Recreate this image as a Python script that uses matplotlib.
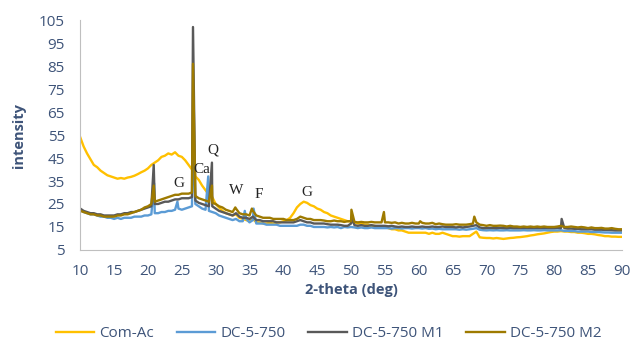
import numpy as np
import matplotlib
matplotlib.use("Agg")
import matplotlib.pyplot as plt

plt.rcParams['font.family'] = ['Open Sans', 'DejaVu Sans']

# 2-theta grid (deg), 0.5 step from 10 to 90
two_theta = np.arange(10, 90.01, 0.5)

com_ac = [
    54, 50, 47, 44.5, 42, 41, 39.5, 38.5, 37.5, 37,          # 10 - 14.5
    36.5, 36, 36.3, 36, 36.5, 36.8, 37.3, 38, 38.8, 39.5,    # 15 - 19.5
    40.5, 42, 43, 44, 45.5, 46, 47, 46.5, 47.5, 46,          # 20 - 24.5
    45.5, 44, 42, 40, 37, 35.5, 33, 31, 29, 28,              # 25 - 29.5
    25, 23.5, 22, 21, 20.5, 20, 20.5, 19, 18.5, 18,          # 30 - 34.5
    17.5, 18.5, 17, 17, 16.5, 16.5, 16.8, 16.5, 17, 17,      # 35 - 39.5
    17.5, 18, 19, 21, 23.5, 25, 26, 25.5, 24.5, 24,          # 40 - 44.5
    23, 22.5, 21.5, 21, 20, 19.5, 19, 18.5, 18, 17.5,        # 45 - 49.5
    17.5, 17, 16.5, 16.5, 16, 16, 15.5, 15.5, 15, 15,        # 50 - 54.5
    15, 14.5, 14, 14, 13.5, 13.5, 13, 12.5, 12.5, 12.5,      # 55 - 59.5
    12.5, 12.5, 12.5, 12, 12.5, 12, 12, 12.5, 12, 11.5,      # 60 - 64.5
    11, 11, 10.8, 11, 11, 11, 12, 13, 10.5, 10.3,            # 65 - 69.5
    10.2, 10.2, 10, 10.2, 10, 9.8, 10, 10.2, 10.3, 10.5,     # 70 - 74.5
    10.6, 10.8, 11, 11.3, 11.5, 11.8, 12, 12.2, 12.5, 12.8,  # 75 - 79.5
    13, 13, 13.2, 13, 13, 12.8, 12.8, 12.5, 12.5, 12.3,      # 80 - 84.5
    12, 12, 11.8, 11.5, 11.3, 11, 11, 10.8, 10.8, 10.7,      # 85 - 89.5
    10.7,                                                    # 90
]

dc_750 = [
    22.5, 21.5, 21, 20.5, 20.5, 20, 19.5, 19.5, 19, 19,      # 10 - 14.5
    18.5, 19, 18.5, 19, 19, 19, 19.5, 19.5, 19.5, 20,        # 15 - 19.5
    20, 20.5, 21, 21, 21.5, 21.5, 22, 22, 22.5, 23,          # 20 - 24.5
    22.5, 23, 23.5, 24, 25, 24, 23, 22.5, 22, 21.5,          # 25 - 29.5
    21, 20, 19.5, 19, 18.5, 18, 18.5, 17.5, 17.5, 18.5,      # 30 - 34.5
    17, 18, 16.5, 16.5, 16.5, 16, 16, 16, 16, 15.5,          # 35 - 39.5
    15.5, 15.5, 15.5, 15.5, 15.5, 16, 16, 15.5, 15.5, 15,    # 40 - 44.5
    15, 15, 15, 14.8, 15, 14.8, 15, 14.5, 15, 14.8,          # 45 - 49.5
    15, 14.8, 14.5, 14.8, 14.5, 14.5, 14.8, 14.5, 14.5, 14.5,  # 50 - 54.5
    14.5, 14.5, 14.3, 14.5, 14.5, 14.3, 14.5, 14.5, 14.3, 14.5,  # 55 - 59.5
    14.5, 14.3, 14.5, 14.2, 14.3, 14, 14.2, 14, 14, 14,      # 60 - 64.5
    14, 14, 13.8, 14, 13.8, 14, 14.2, 14.5, 13.8, 13.6,      # 65 - 69.5
    13.5, 13.6, 13.5, 13.6, 13.5, 13.5, 13.6, 13.5, 13.5, 13.5,  # 70 - 74.5
    13.5, 13.6, 13.5, 13.5, 13.6, 13.5, 13.5, 13.6, 13.5, 13.5,  # 75 - 79.5
    13.5, 13.5, 13.6, 13.3, 13.3, 13.2, 13.2, 13, 13, 13,    # 80 - 84.5
    13, 12.8, 12.8, 12.8, 12.7, 12.6, 12.6, 12.5, 12.5, 12.5,  # 85 - 89.5
    12.5,                                                    # 90
]

dc_750_m1 = [
    23, 22, 21.5, 21, 21, 20.5, 20.5, 20, 20, 20,            # 10 - 14.5
    20, 20.5, 20.5, 21, 21, 21.5, 21.5, 22, 22.5, 23,        # 15 - 19.5
    23.5, 24, 25, 25, 25.5, 26, 26, 26.5, 27, 27,            # 20 - 24.5
    27.5, 27.5, 27.5, 28, 26.5, 25.5, 25, 24.5, 24, 24,      # 25 - 29.5
    23, 22, 21.5, 21, 20.5, 20, 21, 19.5, 19, 19,            # 30 - 34.5
    18.5, 19.5, 18, 18, 17.5, 17.5, 17.5, 17.5, 17, 17,      # 35 - 39.5
    17, 17, 17, 17, 17.5, 18, 17.5, 17, 17, 16.5,            # 40 - 44.5
    16.5, 16.5, 16.5, 16.2, 16, 16, 16, 15.8, 15.5, 15.5,    # 45 - 49.5
    16.5, 15.8, 15.5, 15.8, 15.5, 15.5, 15.8, 15.5, 15.5, 15.5,  # 50 - 54.5
    15.5, 15.3, 15.5, 15.2, 15, 15.2, 15, 15, 15.2, 15,      # 55 - 59.5
    15, 15.2, 15, 15, 15.2, 15, 15, 15.2, 15, 15,            # 60 - 64.5
    15, 14.8, 15, 14.8, 15, 15.2, 15.5, 15.8, 14.8, 14.5,    # 65 - 69.5
    14.5, 14.6, 14.5, 14.5, 14.6, 14.5, 14.5, 14.6, 14.5, 14.5,  # 70 - 74.5
    14.5, 14.6, 14.5, 14.5, 14.6, 14.5, 14.5, 14.6, 14.5, 14.5,  # 75 - 79.5
    14.5, 14.6, 14.5, 14.5, 14.3, 14.3, 14.2, 14.2, 14, 14,  # 80 - 84.5
    14, 14, 13.8, 13.8, 13.8, 13.7, 13.7, 13.6, 13.5, 13.5,  # 85 - 89.5
    13.5,                                                    # 90
]

dc_750_m2 = [
    22, 21.5, 21, 20.5, 20.5, 20, 20, 19.5, 19.5, 19.5,      # 10 - 14.5
    19.5, 20, 20, 20.5, 20.5, 21, 21.5, 22, 22.5, 23.5,      # 15 - 19.5
    24, 25, 26, 26.5, 27, 27.5, 28, 28.5, 29, 29,            # 20 - 24.5
    29.5, 29.5, 29.5, 30, 28.5, 27.5, 27, 26.5, 26, 25.5,    # 25 - 29.5
    25, 24, 23.5, 22.5, 22, 21.5, 23, 21, 20.5, 20.5,        # 30 - 34.5
    20, 22, 20, 19.5, 19, 19, 19, 18.5, 18.5, 18.5,          # 35 - 39.5
    18.5, 18, 18, 18, 18.5, 19.5, 19, 18.5, 18.5, 18,        # 40 - 44.5
    18, 18, 17.8, 17.5, 17.5, 17.8, 17.5, 17.5, 17.2, 17.5,  # 45 - 49.5
    17.5, 17.2, 17, 17.2, 17, 17, 17.2, 17, 17, 17,          # 50 - 54.5
    17, 17, 16.8, 17, 16.5, 16.8, 16.5, 16.5, 16.8, 16.5,    # 55 - 59.5
    16.5, 16.8, 16.5, 16.5, 16.8, 16.2, 16.5, 16.2, 16, 16,  # 60 - 64.5
    16, 16.2, 16, 16, 16, 16.2, 16.5, 17, 16, 15.8,          # 65 - 69.5
    15.5, 15.8, 15.5, 15.5, 15.6, 15.5, 15.2, 15.5, 15.2, 15.2,  # 70 - 74.5
    15, 15.2, 15, 15.2, 15, 15.2, 15, 15.2, 15, 15,          # 75 - 79.5
    15, 15.2, 15.5, 15, 15, 15.2, 15, 14.8, 15, 14.8,        # 80 - 84.5
    14.5, 14.8, 14.5, 14.5, 14.6, 14.3, 14.3, 14.5, 14.2, 14,  # 85 - 89.5
    14,                                                      # 90
]

# sharp reflections (2-theta, intensity) for each pattern
com_ac_peaks = [(26.65, 48)]
dc_750_peaks = [(20.9, 34), (24.35, 26), (26.65, 54), (28.9, 37),
                (34.3, 22), (35.6, 23)]
dc_750_m1_peaks = [(20.85, 42), (26.65, 102), (29.45, 43), (50.1, 19),
                   (81.1, 18.5)]
dc_750_m2_peaks = [(20.85, 33), (26.65, 86), (29.45, 33), (32.9, 23.5),
                   (35.35, 23), (50.05, 22.5), (54.85, 21.5), (60.2, 17.5),
                   (68.2, 19.5)]

series = [
    ('Com-Ac', com_ac, com_ac_peaks, '#FFC000'),
    ('DC-5-750', dc_750, dc_750_peaks, '#5B9BD5'),
    ('DC-5-750 M1', dc_750_m1, dc_750_m1_peaks, '#595959'),
    ('DC-5-750 M2', dc_750_m2, dc_750_m2_peaks, '#9E7A00'),
]

labels = [('G', 24.5, 34.1), ('Ca', 27.9, 39.8), ('Q', 29.6, 48.5),
          ('W', 33.0, 30.7), ('F', 36.3, 29.3), ('G', 43.5, 30.2)]

txt = '#3E5479'

fig = plt.figure(figsize=(6.32, 3.41), dpi=100)
ax = fig.add_axes([0.127, 0.267, 0.857, 0.674])

for name, ys, peaks, col in series:
    x = np.concatenate([two_theta, [p[0] for p in peaks]])
    y = np.concatenate([ys, [p[1] for p in peaks]])
    order = np.argsort(x, kind='stable')
    ax.plot(x[order], y[order], color=col, linewidth=1.7, label=name)

for t, xx, yy in labels:
    ax.text(xx, yy, t, ha='center', va='center', fontsize=11,
            family='Liberation Serif', color='#222222')

ax.set_xlim(10, 90)
ax.set_ylim(5, 105)
ax.set_xticks(np.arange(10, 91, 5))
ax.set_yticks(np.arange(5, 106, 10))
ax.tick_params(length=0, labelsize=11, labelcolor=txt)
ax.tick_params(axis='y', pad=11)
ax.tick_params(axis='x', pad=10)
for s in ['top', 'right']:
    ax.spines[s].set_visible(False)
for s in ['left', 'bottom']:
    ax.spines[s].set_color('#BFBFBF')

ax.set_xlabel('2-theta (deg)', fontsize=10.5, fontweight='bold', color=txt, labelpad=3)
ax.set_ylabel('intensity', fontsize=10.5, fontweight='bold', color=txt, labelpad=9)

fig.legend(loc='center', bbox_to_anchor=(0.52, 0.022), ncol=4, frameon=False,
           fontsize=11, labelcolor=txt, handlelength=2.5, columnspacing=1.5,
           handletextpad=0.35)

fig.savefig('out.png', dpi=100)
